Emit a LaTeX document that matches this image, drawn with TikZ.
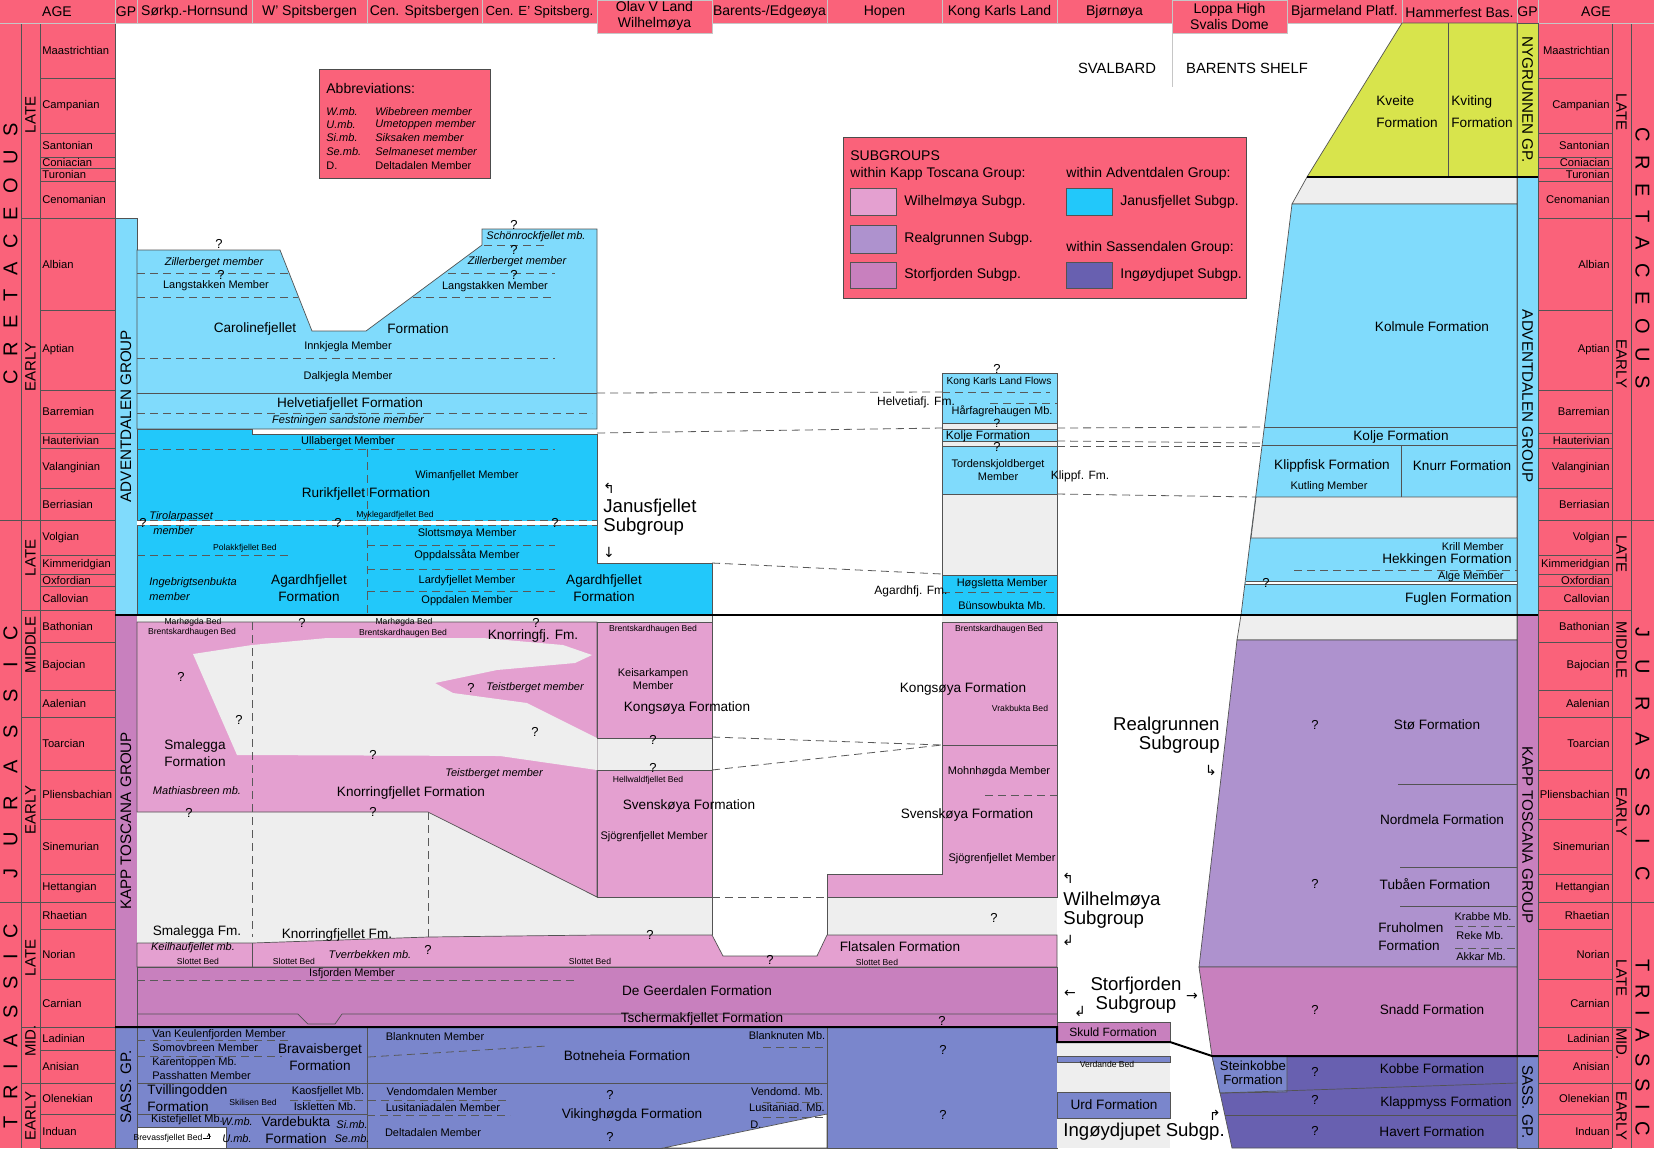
\documentclass[tikz,border=0pt]{standalone}
\usepackage{fontspec}
\setmainfont{Liberation Sans}
\newfontfamily\arrowfont{DejaVu Sans}
\usepackage{tikz}
\usetikzlibrary{positioning,arrows.meta}

\definecolor{agepink}{RGB}{250,98,122}
\definecolor{advlight}{RGB}{128,219,252}
\definecolor{janus}{RGB}{34,200,250}
\definecolor{wilh}{RGB}{228,160,208}
\definecolor{realg}{RGB}{174,146,206}
\definecolor{storf}{RGB}{200,128,190}
\definecolor{ingoy}{RGB}{104,96,176}
\definecolor{sass}{RGB}{122,134,204}
\definecolor{nygr}{RGB}{216,228,76}
\definecolor{hiatus}{RGB}{238,238,238}

\newlength{\lsgap}
\newcommand{\ls}{\hspace{\lsgap}}

\begin{document}
\begin{tikzpicture}[x=0.5pt, y=-0.5pt,
    ln/.style={draw=gray!65!black, line width=0.35pt},
    hl/.style={draw=gray!45, line width=0.5pt},
    dl/.style={draw=gray!70!black, line width=0.4pt, dash pattern=on 4pt off 2.5pt},
    blk/.style={draw=black, line width=1pt},
    hd/.style={font=\fontsize{7}{8}\selectfont, inner sep=0pt, align=center},
    stg/.style={font=\fontsize{5.6}{6}\selectfont, inner sep=0pt},
    ep/.style={font=\fontsize{7.5}{8}\selectfont, inner sep=0pt},
    era/.style={font=\fontsize{10}{11}\selectfont, inner sep=0pt},
    gp/.style={font=\fontsize{7.6}{8}\selectfont, inner sep=0pt},
    fm/.style={font=\fontsize{6.8}{8.3}\selectfont, inner sep=0pt, align=center},
    fms/.style={font=\fontsize{6}{7}\selectfont, inner sep=0pt, align=center},
    sub/.style={font=\fontsize{9.3}{9.8}\selectfont, inner sep=0pt, align=left},
    mb/.style={font=\fontsize{5.5}{6.5}\selectfont, inner sep=0pt, align=center},
    mbi/.style={font=\fontsize{5.5}{7.5}\selectfont\itshape, inner sep=0pt, align=left},
    bed/.style={font=\fontsize{4.3}{5}\selectfont, inner sep=0pt},
    qm/.style={font=\fontsize{6.5}{7}\selectfont, inner sep=0pt},
    arr/.style={font=\fontsize{7}{7}\arrowfont, inner sep=0pt},
    box/.style={fill=agepink, draw=gray!60!black, line width=0.4pt}
]
    \useasboundingbox (0,0) rectangle (1654,1148);
    \fill[white] (0,0) rectangle (1654,1148);

    % Age columns
    \fill[agepink] (0,23) rectangle (115,1148);
    \fill[agepink] (1538,23) rectangle (1654,1148);
    \foreach \xx in {21,40,115,1538,1612,1631}
        \draw[ln] (\xx,23) -- (\xx,1148);
    \foreach \ya/\yb/\st [count=\i] in {23/78/Maastrichtian, 78/133/Campanian, 133/157/Santonian, 157/168/Coniacian, 168/181/Turonian, 181/218/Cenomanian, 218/310/Albian, 310/390/Aptian, 390/433/Barremian, 433/448/Hauterivian, 448/488/Valanginian, 488/520/Berriasian, 520/555/Volgian, 555/574/Kimmeridgian, 574/586/Oxfordian, 586/610/Callovian, 610/642/Bathonian, 642/690/Bajocian, 690/717/Aalenian, 717/770/Toarcian, 770/819/Pliensbachian, 819/874/Sinemurian, 874/902/Hettangian, 902/929/Rhaetian, 929/979/Norian, 979/1027/Carnian, 1027/1050/Ladinian, 1050/1083/Anisian, 1083/1114/Olenekian, 1114/1148/Induan}
    {
        \draw[ln] (40,\yb) -- (115,\yb);
        \draw[ln] (1538,\yb) -- (1612,\yb);
        \node[stg, anchor=west] (sL\i) at (42,{(\ya+\yb)/2}) {\st};
        \node[stg, anchor=east] (sR\i) at (1610,{(\ya+\yb)/2}) {\st};
    }
    \foreach \yy in {218,520,610,717,902,1027,1083} {
        \draw[ln] (21,\yy) -- (40,\yy);
        \draw[ln] (1612,\yy) -- (1631,\yy);
    }
    \foreach \yy in {520,902} {
        \draw[ln] (0,\yy) -- (21,\yy);
        \draw[ln] (1631,\yy) -- (1654,\yy);
    }
    \foreach \yl/\yr/\ep [count=\i] in {115/112/LATE, 367/364/EARLY, 558/554/LATE, 645/650/MIDDLE, 810/812/EARLY, 958/978/LATE, 1041/1044/MID., 1116/1116/EARLY}
    {
        \node[ep, rotate=90] (eL\i) at (30.5,\yl) {\ep};
        \node[ep, rotate=-90] (eR\i) at (1621.5,\yr) {\ep};
    }
    \node[era, rotate=90] (crL) at (10.5,254) {\setlength{\lsgap}{6.8pt}C\ls R\ls E\ls T\ls A\ls C\ls E\ls O\ls U\ls S};
    \node[era, rotate=-90] (crR) at (1642.5,258) {\setlength{\lsgap}{6.8pt}C\ls R\ls E\ls T\ls A\ls C\ls E\ls O\ls U\ls S};
    \node[era, rotate=90] (juL) at (10.5,752) {\setlength{\lsgap}{11pt}J\ls U\ls R\ls A\ls S\ls S\ls I\ls C};
    \node[era, rotate=-90] (juR) at (1642.5,754) {\setlength{\lsgap}{11pt}J\ls U\ls R\ls A\ls S\ls S\ls I\ls C};
    \node[era, rotate=90] (trL) at (10.5,1026) {\setlength{\lsgap}{8pt}T\ls R\ls I\ls A\ls S\ls S\ls I\ls C};
    \node[era, rotate=-90] (trR) at (1642.5,1048) {\setlength{\lsgap}{6pt}T\ls R\ls I\ls A\ls S\ls S\ls I\ls C};

    % Header row
    \fill[agepink] (0,0) rectangle (1654,23);
    \filldraw[fill=agepink, hl] (597,0) rectangle (712,33);
    \filldraw[fill=agepink, hl] (1172,0) rectangle (1287,33);
    \foreach \xx in {115,137,252,367,482,597,712,827,942,1057,1172,1287,1402,1517,1538}
        \draw[hl] (\xx,0) -- (\xx,23);
    \draw[hl] (0,23) -- (597,23) (712,23) -- (1172,23) (1287,23) -- (1654,23);
    \node[hd] (hAgeL) at (57,12) {AGE};
    \node[hd] (hGpL) at (126,12) {GP};
    \node[hd] (hSork) at (194.5,12) {Sørkp.-Hornsund};
    \node[hd] (hWsp) at (309.5,12) {W' Spitsbergen};
    \node[hd] (hCsp) at (424.5,12) {Cen. Spitsbergen};
    \node[hd, font=\fontsize{6.6}{7}\selectfont] (hCEsp) at (539.5,12) {Cen. E' Spitsberg.};
    \node[hd] (hOlav) at (654.5,16) {Olav V Land\\Wilhelmøya};
    \node[hd] (hBare) at (769.5,12) {Barents-/Edgeøya};
    \node[hd] (hHope) at (884.5,12) {Hopen};
    \node[hd] (hKKL) at (999.5,12) {Kong Karls Land};
    \node[hd] (hBjor) at (1114.5,12) {Bjørnøya};
    \node[hd] (hLopp) at (1229.5,16) {Loppa High\\Svalis Dome};
    \node[hd] (hBjar) at (1344.5,12) {Bjarmeland Platf.};
    \node[hd] (hHamm) at (1459.5,12) {Hammerfest Bas.};
    \node[hd] (hGpR) at (1527.5,12) {GP};
    \node[hd] (hAgeR) at (1596,12) {AGE};

    % Group columns
    \filldraw[fill=advlight, ln] (115,218) rectangle (137,615);
    \filldraw[fill=storf, ln] (115,615) rectangle (137,1027);
    \filldraw[fill=sass, ln] (115,1027) rectangle (137,1148);
    \filldraw[fill=nygr, ln] (1517,23) rectangle (1538,177);
    \filldraw[fill=advlight, ln] (1517,177) rectangle (1538,615);
    \filldraw[fill=storf, ln] (1517,615) rectangle (1538,1056);
    \filldraw[fill=sass, ln] (1517,1056) rectangle (1538,1148);
    \node[gp, rotate=90] (gAdvL) at (126,416) {ADVENTDALEN GROUP};
    \node[gp, rotate=90] (gKTL) at (126,821) {KAPP TOSCANA GROUP};
    \node[gp, rotate=90] (gSasL) at (126,1087) {SASS. GP.};
    \node[gp, rotate=-90] (gNyg) at (1527.5,100) {NYGRUNNEN GP.};
    \node[gp, rotate=-90] (gAdvR) at (1527.5,396) {ADVENTDALEN GROUP};
    \node[gp, rotate=-90] (gKTR) at (1527.5,835) {KAPP TOSCANA GROUP};
    \node[gp, rotate=-90] (gSasR) at (1527.5,1102) {SASS. GP.};

    % Svalbard / Barents shelf
    \draw[hl] (1172,33) -- (1172,87);
    \node[fm, font=\fontsize{7.4}{8}\selectfont] (svalb) at (1117,68) {SVALBARD};
    \node[fm, font=\fontsize{7.4}{8}\selectfont] (barsh) at (1247,68) {BARENTS SHELF};

    % Adventdalen Group, Svalbard
    \filldraw[fill=advlight, ln] (137,250) -- (280,250) -- (312,331) -- (366,331) -- (482,245) -- (482,229) -- (597,229) -- (597,429) -- (137,429) -- cycle;
    \draw[ln] (137,393) -- (597,393);
    \draw[dl] (137,273) -- (290,273) (448,273) -- (555,273);
    \draw[dl] (137,297) -- (298,297) (413,297) -- (555,297);
    \draw[dl] (137,358) -- (555,358);
    \draw[dl] (484,245) -- (546,245);
    \draw[dl] (137,413) -- (592,413);
    \filldraw[fill=janus, ln] (137,429) -- (252,429) -- (252,434) -- (597,434) -- (597,563) -- (712,563) -- (712,615) -- (137,615) -- cycle;
    \draw[dl] (137,449) -- (555,449);
    \draw[dl] (367,449) -- (367,615);
    \draw[white, line width=2pt] (137,523) -- (597,523);
    \draw[dl] (137,520.5) -- (597,520.5) (137,525.5) -- (597,525.5);
    \draw[dl] (367,545) -- (555,545);
    \draw[dl] (137,555) -- (290,555);
    \draw[dl] (367,569) -- (555,569);
    \draw[dl] (367,591) -- (555,591);

    % Kong Karls Land, Adventdalen
    \filldraw[fill=hiatus, ln] (942,373) rectangle (1057,615);
    \filldraw[fill=advlight, ln] (942,373) rectangle (1057,423);
    \filldraw[fill=advlight, ln] (942,429) rectangle (1057,441);
    \filldraw[fill=advlight, ln] (942,446) rectangle (1057,494);
    \filldraw[fill=janus, ln] (942,575) rectangle (1057,615);
    \draw[dl] (942,392) -- (1050,392);
    \draw[dl] (990,403) -- (1057,403);
    \draw[dl] (942,592) -- (1057,592);

    % Correlation lines
    \draw[dl] (597,393) -- (942,392);
    \draw[dl] (597,433) -- (942,428);
    \draw[dl] (712,563) -- (942,574);
    \draw[dl] (1057,428) -- (1264,427);
    \draw[dl] (1057,441) -- (1262,443);
    \draw[dl] (1057,446) -- (1262,446);
    \draw[dl] (1057,494) -- (1256,497);

    % Barents Shelf
    \filldraw[fill=nygr, ln] (1402,23) -- (1517,23) -- (1517,177) -- (1307,177) -- cycle;
    \draw[ln] (1448,23) -- (1448,177);
    \filldraw[fill=hiatus, ln] (1307,177) -- (1517,177) -- (1517,204) -- (1292,204) -- cycle;
    \filldraw[fill=advlight, ln] (1292,204) -- (1517,204) -- (1517,615) -- (1241,615) -- cycle;
    \draw[ln] (1264,427) -- (1517,427);
    \draw[ln] (1262,445) -- (1517,445);
    \draw[ln] (1401,445) -- (1401,497);
    \filldraw[fill=hiatus, ln] (1256,497) -- (1517,497) -- (1517,538) -- (1251,538) -- cycle;
    \draw[dl] (1294,570) -- (1517,570);
    \draw[white, line width=1.5pt] (1246,583) -- (1517,583);
    \draw[ln] (1246,581.5) -- (1517,581.5) (1245,584.5) -- (1517,584.5);
    \filldraw[fill=hiatus, ln] (1241,615) -- (1517,615) -- (1517,640) -- (1237,640) -- cycle;
    \filldraw[fill=realg, ln] (1237,640) -- (1517,640) -- (1517,967) -- (1199,967) -- cycle;
    \draw[ln] (1398,784) -- (1517,784);
    \draw[ln] (1400,867) -- (1517,867);
    \draw[ln] (1400,906) -- (1517,906);
    \draw[dl] (1455,926) -- (1517,926) (1455,948) -- (1517,948);
    \filldraw[fill=storf, ln] (1199,967) -- (1517,967) -- (1517,1056) -- (1212,1056) -- cycle;
    \filldraw[fill=ingoy, ln] (1212,1056) -- (1517,1056) -- (1517,1148) -- (1232,1148) -- cycle;
    \filldraw[fill=sass, ln] (1212,1056) -- (1287,1056) -- (1287,1092) -- (1220,1093) -- cycle;
    \draw[ln] (1220,1093) -- (1517,1083);
    \draw[ln] (1225,1115) -- (1517,1115);

    % Kapp Toscana Group, Svalbard
    \fill[hiatus] (137,615) rectangle (712,967);
    \fill[hiatus] (942,615) rectangle (1057,622);
    \fill[hiatus] (827,897) rectangle (1057,967);
    \filldraw[fill=wilh, ln] (137,622) -- (597,622) -- (597,897) -- (428,812) -- (137,812) -- cycle;
    \fill[hiatus] (193,654) -- (252,645) -- (327,638) -- (483,638) -- (563,645) -- (592,655) -- (575,663) -- (497,670) -- (435,683) -- (453,693) -- (527,703) -- (597,738) -- (597,770) -- (500,756) -- (237,755) -- cycle;
    \filldraw[fill=wilh, ln] (597,622) rectangle (712,738);
    \filldraw[fill=wilh, ln] (597,770) rectangle (712,897);
    \filldraw[fill=wilh, ln] (827,874) -- (942,874) -- (942,622) -- (1057,622) -- (1057,897) -- (827,897) -- cycle;
    \draw[ln] (942,745) -- (1057,745);
    \draw[dl] (985,795) -- (1057,795);
    \draw[ln] (712,615) -- (712,935);
    \draw[ln] (827,897) -- (827,935);
    \draw[dl] (712,737) -- (942,745);
    \draw[dl] (712,770) -- (942,745);
    \draw[dl] (712,897) -- (827,897);
    \draw[dl] (252,622) -- (252,937);
    \draw[dl] (428,812) -- (428,937);
    \filldraw[fill=wilh, ln] (137,943) -- (252,943) -- (428,937) -- (597,935) -- (712,935) -- (723,956) -- (817,956) -- (827,935) -- (1057,935) -- (1057,967) -- (137,967) -- cycle;
    \draw[ln] (252,943) -- (252,967);
    \filldraw[fill=storf, ln] (137,967) rectangle (1057,1027);
    \draw[ln] (137,1014) -- (298,1014) -- (308,1024) -- (335,1024) -- (342,1014) -- (1057,1014);
    \draw[dl] (137,980) -- (575,980);

    % Sassendalen Group, Svalbard
    \filldraw[fill=sass, ln] (137,1027) rectangle (1057,1148);
    \filldraw[fill=white, ln] (137,1127) rectangle (226,1148);
    \filldraw[fill=white, ln] (663,1148) -- (827,1114) -- (827,1148) -- cycle;
    \draw[ln] (367,1027) -- (367,1148);
    \draw[ln] (827,1027) -- (827,1148);
    \draw[ln] (137,1083) -- (827,1083);
    \draw[ln] (137,1114) -- (367,1114);
    \draw[dl] (137,1040) -- (290,1040);
    \draw[dl] (137,1056) -- (282,1056);
    \draw[dl] (368,1057) -- (547,1046);
    \draw[dl] (290,1100) -- (510,1100);
    \draw[dl] (367,1115) -- (510,1115);
    \draw[dl] (763,1047) -- (827,1047) (763,1102) -- (827,1102) (763,1117) -- (827,1117);

    % Bjørnøya
    \fill[hiatus] (1057,1042) rectangle (1170,1148);
    \filldraw[fill=storf, ln] (1057,1022) rectangle (1170,1042);
    \filldraw[fill=sass, ln] (1057,1056) rectangle (1170,1062);
    \filldraw[fill=sass, ln] (1057,1092) rectangle (1170,1118);

    % Group boundaries
    \draw[blk] (115,615) -- (1538,615);
    \draw[blk] (115,1027) -- (1057,1027) -- (1057,1042) -- (1170,1042) -- (1212,1056) -- (1538,1056);
    \draw[blk] (1307,177) -- (1538,177);

    % Labels, Adventdalen Group
    \node[qm] (aq1) at (219,244) {?};
    \node[mbi] (aZil1) at (214,263) {Zillerberget member};
    \node[qm] (aq2) at (221,275) {?};
    \node[mb] (aLang1) at (216,286) {Langstakken Member};
    \node[fm] (aCaro) at (255,329) {Carolinefjellet};
    \node[fm] (aCaroF) at (418,329) {Formation};
    \node[mb] (aInnk) at (348,347) {Innkjegla Member};
    \node[mb] (aDalk) at (348,377) {Dalkjegla Member};
    \node[qm] (aq3) at (514,225) {?};
    \node[mbi] (aSchon) at (536,237) {Schönrockfjellet mb.};
    \node[qm] (aq4) at (514,250) {?};
    \node[mbi] (aZil2) at (517,262) {Zillerberget member};
    \node[qm] (aq5) at (514,275) {?};
    \node[mb] (aLang2) at (495,287) {Langstakken Member};
    \node[fm] (aHelv) at (350,404) {Helvetiafjellet Formation};
    \node[mbi] (aFest) at (348,421) {Festningen sandstone member};
    \node[mb] (aUlla) at (348,442) {Ullaberget Member};
    \node[mb] (aWima) at (467,476) {Wimanfjellet Member};
    \node[fm] (aRuri) at (366,494) {Rurikfjellet Formation};
    \node[mbi, anchor=west] (aTiro) at (149,523) {Tirolarpasset\\\hspace*{2pt}member};
    \node[bed] (aMykl) at (395,515) {Myklegardfjellet Bed};
    \node[qm] (aq6) at (143,523) {?};
    \node[qm] (aq7) at (338,523) {?};
    \node[qm] (aq8) at (555,523) {?};
    \node[mb] (aSlot) at (467,534) {Slottsmøya Member};
    \node[bed] (aPola) at (245,548) {Polakkfjellet Bed};
    \node[mb] (aOppS) at (467,555) {Oppdalssåta Member};
    \node[mbi, anchor=west] (aInge) at (149,589) {Ingebrigtsenbukta\\member};
    \node[fm] (aAgar1) at (309,588) {Agardhfjellet\\Formation};
    \node[mb] (aLard) at (467,581) {Lardyfjellet Member};
    \node[mb] (aOppd) at (467,601) {Oppdalen Member};
    \node[fm] (aAgar2) at (604,588) {Agardhfjellet\\Formation};
    \node[sub, anchor=west] (jSub) at (603,517) {Janusfjellet\\Subgroup};
    \node[arr] (jArU) at (609,488) {↰};
    \node[arr] (jArD) at (609,552) {↓};
    \node[qm] (kq1) at (997,369) {?};
    \node[mb, font=\fontsize{5.1}{6}\selectfont] (kFlow) at (999,382) {Kong Karls Land Flows};
    \node[fms] (kHelv) at (916,402) {Helvetiafj. Fm.};
    \node[mb] (kHarf) at (1002,411.5) {Hårfagrehaugen Mb.};
    \node[qm, font=\fontsize{6}{6}\selectfont] (kq2) at (997,423.5) {?};
    \node[fms] (kKolj) at (988,436) {Kolje Formation};
    \node[qm] (kq3) at (997,447) {?};
    \node[mb] (kTord) at (998,470) {Tordenskjoldberget\\Member};
    \node[fms] (kKlip) at (1080,476) {Klippf. Fm.};
    \node[fms] (kAgar) at (911,591) {Agardhfj. Fm.};
    \node[mb] (kHogs) at (1002,584) {Høgsletta Member};
    \node[mb] (kBuns) at (1002,606) {Bünsowbukta Mb.};

    % Labels, Kapp Toscana Group
    \node[bed] (wMar1) at (193,622) {Marhøgda Bed};
    \node[bed] (wBre1) at (192,632) {Brentskardhaugen Bed};
    \node[qm] (wq1) at (302,623) {?};
    \node[bed] (wMar2) at (404,622) {Marhøgda Bed};
    \node[bed] (wBre2) at (403,633) {Brentskardhaugen Bed};
    \node[qm] (wq2) at (536,623) {?};
    \node[fm] (wKnoF) at (533,636) {Knorringfj. Fm.};
    \node[qm] (wq3) at (181,677) {?};
    \node[qm] (wq4) at (239,720) {?};
    \node[qm] (wq5) at (471,688) {?};
    \node[mbi] (wTeis1) at (535,688) {Teistberget member};
    \node[qm] (wq6) at (535,732) {?};
    \node[fm] (wSmal) at (195,753) {Smalegga\\Formation};
    \node[qm] (wq7) at (373,755) {?};
    \node[mbi] (wTeis2) at (494,774) {Teistberget member};
    \node[mbi] (wMath) at (197,791) {Mathiasbreen mb.};
    \node[fm] (wKnor) at (411,793) {Knorringfjellet Formation};
    \node[qm] (wq8) at (189,813) {?};
    \node[qm] (wq9) at (373,812) {?};
    \node[bed] (oBre) at (653,629) {Brentskardhaugen Bed};
    \node[mb] (oKeis) at (653,679) {Keisarkampen\\Member};
    \node[fm] (oKong) at (687,708) {Kongsøya Formation};
    \node[qm] (oq1) at (653,740) {?};
    \node[qm] (oq2) at (653,768) {?};
    \node[bed] (oHell) at (648,780) {Hellwaldfjellet Bed};
    \node[fm] (oSven) at (689,806) {Svenskøya Formation};
    \node[mb] (oSjog) at (654,837) {Sjögrenfjellet Member};
    \node[bed] (kBre) at (999,629) {Brentskardhaugen Bed};
    \node[fm] (kKong) at (963,689) {Kongsøya Formation};
    \node[bed] (kVrak) at (1020,708) {Vrakbukta Bed};
    \node[mb] (kMohn) at (999,772) {Mohnhøgda Member};
    \node[fm] (kSven) at (967,815) {Svenskøya Formation};
    \node[mb] (kSjog) at (1002,859) {Sjögrenfjellet Member};
    \node[qm] (kq4) at (994,918) {?};
    \node[fm] (tSmal) at (197,932) {Smalegga Fm.};
    \node[mbi] (tKeil) at (193,948) {Keilhaufjellet mb.};
    \node[bed] (tSl1) at (198,961) {Slottet Bed};
    \node[fm] (tKnor) at (337,935) {Knorringfjellet Fm.};
    \node[mbi] (tTver) at (370,955) {Tverrbekken mb.};
    \node[qm] (tq1) at (428,950) {?};
    \node[bed] (tSl2) at (294,961) {Slottet Bed};
    \node[qm] (tq2) at (650,935) {?};
    \node[bed] (tSl3) at (590,961) {Slottet Bed};
    \node[qm] (tq3) at (770,960) {?};
    \node[fm] (tFlat) at (900,947) {Flatsalen Formation};
    \node[bed] (tSl4) at (877,962) {Slottet Bed};
    \node[mb] (sIsf) at (352,974) {Isfjorden Member};
    \node[fm] (sDeGe) at (697,991) {De Geerdalen Formation};
    \node[fm] (sTsch) at (702,1019) {Tschermakfjellet Formation};
    \node[qm] (sq1) at (942,1021) {?};

    % Labels, Sassendalen Group
    \node[mb, anchor=west] (vVanK) at (152,1035) {Van Keulenfjorden Member};
    \node[mb, anchor=west] (vSomo) at (152,1048) {Somovbreen Member};
    \node[mb, anchor=west] (vKare) at (152,1063) {Karentoppen Mb.};
    \node[mb, anchor=west] (vPass) at (152,1076) {Passhatten Member};
    \node[fm] (vBrav) at (320,1057) {Bravaisberget\\Formation};
    \node[fm, anchor=west, align=left] (vTvil) at (147,1098) {Tvillingodden\\Formation};
    \node[bed] (vSkil) at (253,1102) {Skilisen Bed};
    \node[mb] (vKaos) at (328,1092) {Kaosfjellet Mb.};
    \node[mb] (vIskl) at (325,1107) {Iskletten Mb.};
    \node[mb] (vKist) at (187,1120) {Kistefjellet Mb.};
    \node[bed] (vBrev) at (168,1138) {Brevassfjellet Bed};
    \draw[-{To[length=2pt,width=2pt]}, line width=0.3pt] (vBrev.east) -- ++(6,0) -- ++(0,-5);
    \node[mbi] (vWmb) at (237,1122) {W.mb.};
    \node[mbi] (vUmb) at (237,1139) {U.mb.};
    \node[fm] (vVard) at (296,1130) {Vardebukta\\Formation};
    \node[mbi] (vSimb) at (352,1125) {Si.mb.};
    \node[mbi] (vSemb) at (352,1139) {Se.mb.};
    \node[mb] (vBlan) at (435,1037) {Blanknuten Member};
    \node[fm] (vBotn) at (627,1056) {Botneheia Formation};
    \node[mb] (vBlan2) at (787,1036) {Blanknuten Mb.};
    \node[mb] (vVend) at (442,1092) {Vendomdalen Member};
    \node[mb] (vLusi) at (443,1108) {Lusitaniadalen Member};
    \node[mb] (vDelt) at (433,1133) {Deltadalen Member};
    \node[qm] (vq1) at (610,1095) {?};
    \node[fm] (vViki) at (632,1115) {Vikinghøgda Formation};
    \node[qm] (vq2) at (610,1137) {?};
    \node[mb] (vVend2) at (787,1092) {Vendomd. Mb.};
    \node[mb] (vLusi2) at (787,1108) {Lusitaniad. Mb.};
    \node[mb, anchor=west] (vD) at (750,1125) {D.};
    \node[qm] (vq3) at (943,1050) {?};
    \node[qm] (vq4) at (943,1115) {?};

    % Labels, Bjørnøya and subgroups
    \node[sub, anchor=east, align=right] (mReal) at (1220,735) {Realgrunnen\\Subgroup};
    \node[arr] (mRealA) at (1211,770) {↳};
    \node[sub, anchor=west] (mWilh) at (1063,910) {Wilhelmøya\\Subgroup};
    \node[arr] (mWilA1) at (1068,878) {↰};
    \node[arr] (mWilA2) at (1068,940) {↲};
    \node[sub, align=center] (mStor) at (1136,995) {Storfjorden\\Subgroup};
    \node[arr] (mStoA1) at (1070,994) {←};
    \node[arr] (mStoA2) at (1192,997) {→};
    \node[arr] (mStoA3) at (1080,1011) {↲};
    \node[fms] (mSkul) at (1113,1032) {Skuld Formation};
    \node[bed] (mVerd) at (1107,1064) {Verdande Bed};
    \node[fm] (mUrd) at (1114,1105) {Urd Formation};
    \node[sub, anchor=west] (mIngo) at (1063,1132) {Ingøydjupet Subgp.};
    \node[arr] (mIngA) at (1215,1115) {↱};

    % Labels, Barents Shelf
    \node[fm, anchor=west, align=left, font=\fontsize{6.8}{11}\selectfont] (rKvei) at (1376,112) {Kveite\\Formation};
    \node[fm, anchor=west, align=left, font=\fontsize{6.8}{11}\selectfont] (rKvit) at (1451,112) {Kviting\\Formation};
    \node[fm] (rKolm) at (1432,327) {Kolmule Formation};
    \node[fm] (rKolj) at (1401,437) {Kolje Formation};
    \node[fm] (rKlip) at (1332,466) {Klippfisk Formation};
    \node[mb] (rKutl) at (1329,487) {Kutling Member};
    \node[fm] (rKnur) at (1462,466) {Knurr Formation};
    \node[mb, anchor=east] (rKril) at (1504,547) {Krill Member};
    \node[fm, anchor=east] (rHekk) at (1512,560) {Hekkingen Formation};
    \node[mb, anchor=east] (rAlge) at (1504,577) {Alge Member};
    \node[qm] (rq1) at (1266,583) {?};
    \node[fm, anchor=east] (rFugl) at (1512,599) {Fuglen Formation};
    \node[qm] (rq2) at (1315,725) {?};
    \node[fm] (rSto) at (1437,725) {Stø Formation};
    \node[fm] (rNord) at (1442,820) {Nordmela Formation};
    \node[qm] (rq3) at (1315,884) {?};
    \node[fm] (rTuba) at (1435,884) {Tubåen Formation};
    \node[fm, anchor=west, align=left, font=\fontsize{6.8}{9}\selectfont] (rFruh) at (1378,937) {Fruholmen\\Formation};
    \node[mb] (rKrab) at (1483,917) {Krabbe Mb.};
    \node[mb] (rReke) at (1480,936) {Reke Mb.};
    \node[mb] (rAkka) at (1481,957) {Akkar Mb.};
    \node[qm] (rq4) at (1315,1010) {?};
    \node[fm] (rSnad) at (1432,1010) {Snadd Formation};
    \node[fm, font=\fontsize{6.6}{7}\selectfont] (rStei) at (1253,1073) {Steinkobbe\\Formation};
    \node[qm] (rq5) at (1315,1072) {?};
    \node[fm] (rKobb) at (1432,1069) {Kobbe Formation};
    \node[qm] (rq6) at (1315,1100) {?};
    \node[fm] (rKlap) at (1446,1103) {Klappmyss Formation};
    \node[qm] (rq7) at (1315,1131) {?};
    \node[fm] (rHave) at (1432,1132) {Havert Formation};

    % Abbreviations box
    \filldraw[box] (319,69) rectangle (490,178);
    \node[hd, anchor=west] (abT) at (326,88) {Abbreviations:};
    \foreach \yy/\ab/\nm [count=\i] in {112/W.mb./Wibebreen member, 125/U.mb./Umetoppen member, 138/Si.mb./Siksaken member, 152/Se.mb./Selmaneset member}
    {
        \node[mbi, anchor=west] (abA\i) at (326,\yy) {\ab};
        \node[mbi, anchor=west] (abN\i) at (375,\yy) {\nm};
    }
    \node[mb, anchor=west] (abA5) at (326,166) {D.};
    \node[mb, anchor=west] (abN5) at (375,166) {Deltadalen Member};

    % Subgroups legend
    \filldraw[box] (843,137) rectangle (1246,298);
    \node[hd, anchor=west] (lgT) at (850,156) {SUBGROUPS};
    \node[hd, anchor=west] (lgKT) at (850,174) {within Kapp Toscana Group:};
    \node[hd, anchor=west] (lgAdv) at (1066,174) {within Adventdalen Group:};
    \node[hd, anchor=west] (lgSas) at (1066,248) {within Sassendalen Group:};
    \filldraw[fill=wilh, ln] (850,188) rectangle (896,215);
    \filldraw[fill=realg, ln] (850,225) rectangle (896,253);
    \filldraw[fill=storf, ln] (850,262) rectangle (896,288);
    \filldraw[fill=janus, ln] (1066,188) rectangle (1112,215);
    \filldraw[fill=ingoy, ln] (1066,262) rectangle (1112,288);
    \node[hd, anchor=west] (lgW) at (904,202) {Wilhelmøya Subgp.};
    \node[hd, anchor=west] (lgR) at (904,239) {Realgrunnen Subgp.};
    \node[hd, anchor=west] (lgS) at (904,275) {Storfjorden Subgp.};
    \node[hd, anchor=west] (lgJ) at (1120,202) {Janusfjellet Subgp.};
    \node[hd, anchor=west] (lgI) at (1120,275) {Ingøydjupet Subgp.};
\end{tikzpicture}
\end{document}
